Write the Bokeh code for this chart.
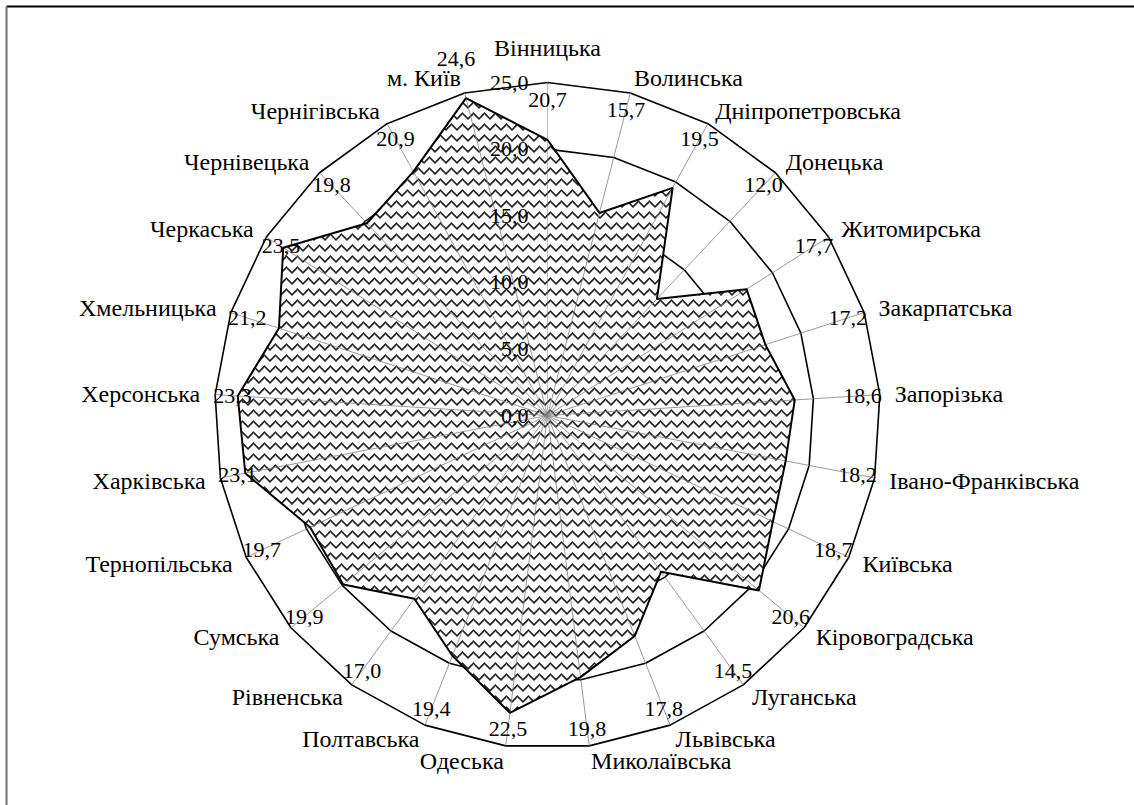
import math
from bokeh.plotting import figure
from bokeh.models import Range1d, ColumnDataSource
from bokeh.core.properties import value
from bokeh.embed import file_html
from bokeh.resources import INLINE

# ---- data ----
regions = ["Вінницька", "Волинська", "Дніпропетровська", "Донецька", "Житомирська",
           "Закарпатська", "Запорізька", "Івано-Франківська", "Київська", "Кіровоградська",
           "Луганська", "Львівська", "Миколаївська", "Одеська", "Полтавська",
           "Рівненська", "Сумська", "Тернопільська", "Харківська", "Херсонська",
           "Хмельницька", "Черкаська", "Чернівецька", "Чернігівська", "м. Київ"]
values = [20.7, 15.7, 19.5, 12.0, 17.7,
          17.2, 18.6, 18.2, 18.7, 20.6,
          14.5, 17.8, 19.8, 22.5, 19.4,
          17.0, 19.9, 19.7, 23.1, 23.3,
          21.2, 23.5, 19.8, 20.9, 24.6]
ticks = [0, 5, 10, 15, 20, 25]
tick_labels = ["0,0", "5,0", "10,0", "15,0", "20,0", "25,0"]
value_labels = [f"{v:.1f}".replace(".", ",") for v in values]

# ---- layout ----
W, H = 1134, 805
CX, CY = 547, 415          # centre of the radar in canvas px
RMAX = 25.0
S = 333.0 / RMAX           # px per unit
FONT = value("Liberation Serif")
FS_NUM = "22px"
FS_CAT = "24px"

n = len(regions)
ang = [math.pi / 2 - i * 2 * math.pi / n for i in range(n)]
cosv = [math.cos(a) for a in ang]
sinv = [math.sin(a) for a in ang]

xmin, xmax = -CX / S, (W - CX) / S
ymin, ymax = -(H - CY) / S, CY / S
p = figure(width=W, height=H, output_backend="svg", toolbar_location=None,
           x_range=Range1d(xmin, xmax), y_range=Range1d(ymin, ymax),
           min_border=0)
p.axis.visible = False
p.grid.visible = False
p.outline_line_color = None
p.background_fill_color = "white"
p.border_fill_color = "white"

# chart-area frame (top and left edges visible)
fl, ft = -(CX - 6) / S, (CY - 6) / S
p.line([fl, xmax], [ft, ft], line_color="black", line_width=2)
p.line([fl, fl], [ymin, ft], line_color="#707070", line_width=2)

# rings
ring_xs, ring_ys = [], []
for t in ticks[1:]:
    ring_xs.append([t * c for c in cosv] + [t * cosv[0]])
    ring_ys.append([t * s for s in sinv] + [t * sinv[0]])
p.multi_line(ring_xs, ring_ys, line_color="black", line_width=1.6)

# data polygon fill
dx = [v * c for v, c in zip(values, cosv)]
dy = [v * s for v, s in zip(values, sinv)]
p.patch(dx, dy, fill_color="white", line_alpha=0,
        hatch_pattern="horizontal_wave", hatch_color="#222222",
        hatch_scale=11, hatch_weight=1.6)

# spokes
sp_xs = [[0, RMAX * c] for c in cosv[1:]]
sp_ys = [[0, RMAX * s] for s in sinv[1:]]
p.multi_line(sp_xs, sp_ys, line_color="#808080", line_width=0.8)
p.line([0, 0], [0, RMAX], line_color="#808080", line_width=1, line_dash="1 1")

# data outline
p.line(dx + [dx[0]], dy + [dy[0]], line_color="black", line_width=2)

# value axis labels
p.text(x=[0] * len(ticks), y=ticks, text=tick_labels, text_font=FONT,
       text_font_size=FS_NUM, text_align="right", text_baseline="middle",
       x_offset=-19, text_color="black")

# data labels (placed near the outer ring, outside it when the value nearly fills it)
rl = [27.6 if v >= 24 else 23.7 for v in values]
p.text(x=[r * c for r, c in zip(rl, cosv)], y=[r * s for r, s in zip(rl, sinv)],
       text=value_labels, text_font=FONT, text_font_size=FS_NUM, text_align="center",
       text_baseline="middle", text_color="black")

# category labels
RC = 348.0 / S
RTOP = 355.0 / S
groups = {"left": [], "right": [], "center": []}
for i in range(n):
    if abs(cosv[i]) < 0.05:
        groups["center"].append(i)
    elif cosv[i] > 0:
        groups["left"].append(i)
    else:
        groups["right"].append(i)
for align, idx in groups.items():
    if not idx:
        continue
    r = RTOP if align == "center" else RC
    src = ColumnDataSource(dict(x=[r * cosv[i] for i in idx],
                                y=[r * sinv[i] for i in idx],
                                t=[regions[i] for i in idx]))
    p.text(x="x", y="y", text="t", source=src, text_font=FONT, text_font_size=FS_CAT,
           text_align=align, text_baseline="bottom" if align == "center" else "middle",
           text_color="black")

open("out.html", "w").write(file_html(p, INLINE))
